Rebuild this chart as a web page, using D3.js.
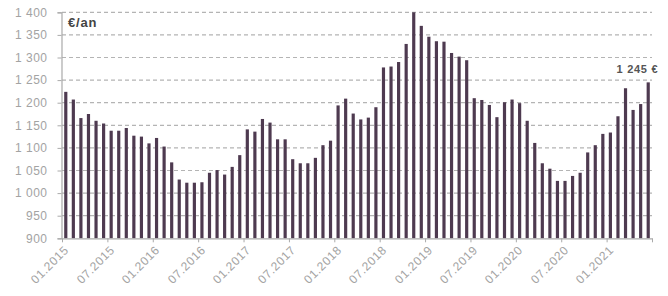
<!DOCTYPE html>
<html>
<head>
<meta charset="utf-8">
<script src="https://cdn.jsdelivr.net/npm/d3@7"></script>
<style>
  body { margin: 0; background: #fff; }
  #chart { position: relative; width: 668px; height: 296px; }
  svg { display: block; font-family: "Liberation Sans", Arial, sans-serif; }
  .xlab {
    position: absolute; white-space: nowrap;
    font: 12px "Liberation Sans", Arial, sans-serif; letter-spacing: 0.6px;
    color: #a3a3a3; line-height: 12px;
    transform-origin: 100% 50%; transform: rotate(-45deg);
  }
</style>
</head>
<body>
<div id="chart"></div>
<script>
// monthly values, 01.2015 -> 06.2021 (€/an)
var values = [
  1224, 1207, 1166, 1175, 1160, 1154, 1138, 1138, 1144, 1127, 1125, 1110,
  1122, 1103, 1068, 1030, 1023, 1023, 1024, 1045, 1051, 1041, 1058, 1084,
  1141, 1136, 1164, 1156, 1119, 1119, 1075, 1066, 1066, 1078, 1106, 1116,
  1194, 1209, 1176, 1163, 1167, 1190, 1278, 1280, 1290, 1330, 1400, 1370,
  1346, 1336, 1335, 1310, 1302, 1294, 1210, 1206, 1195, 1168, 1201, 1207,
  1199, 1160, 1111, 1066, 1054, 1027, 1027, 1038, 1045, 1090, 1106, 1131,
  1134, 1170, 1232, 1184, 1197, 1245
];
var tickLabels = ['01.2015', '07.2015', '01.2016', '07.2016', '01.2017', '07.2017',
  '01.2018', '07.2018', '01.2019', '07.2019', '01.2020', '07.2020', '01.2021'];
var yTicks = [900, 950, 1000, 1050, 1100, 1150, 1200, 1250, 1300, 1350, 1400];
var unitLabel = '€/an';
var lastLabel = '1 245 €';

var W = 668, H = 296;
var margin = {top: 12, right: 16, bottom: 58, left: 62};
var x0 = margin.left, x1 = W - margin.right,
    y0 = H - margin.bottom, y1 = margin.top;

var svg = d3.select('#chart').append('svg').attr('width', W).attr('height', H);

var xBand = d3.scaleBand().domain(d3.range(values.length)).range([x0, x1])
  .paddingInner(0.58).paddingOuter(0.29);
var xLin = d3.scaleLinear().domain([0, values.length]).range([x0, x1]);
var y = d3.scaleLinear().domain([900, 1400]).range([y0 + 0.3, y1 + 0.3]);

// dashed grid
svg.append('g').selectAll('line')
  .data(yTicks.slice(1))
  .join('line')
  .attr('x1', x0).attr('x2', x1)
  .attr('y1', function(d) { return y(d); })
  .attr('y2', function(d) { return y(d); })
  .attr('stroke', '#b4b4b4')
  .attr('stroke-width', 1.2)
  .attr('stroke-dasharray', '4,3');

// bars
svg.append('g').selectAll('rect')
  .data(values)
  .join('rect')
  .attr('x', function(d, i) { return xBand(i); })
  .attr('width', xBand.bandwidth())
  .attr('y', function(d) { return y(d); })
  .attr('height', function(d) { return y(900) - y(d); })
  .attr('fill', '#4e3a50');

// y axis
var fmt = d3.format(',');
var yAxis = svg.append('g')
  .attr('transform', 'translate(' + (x0 - 0.5) + ',0)')
  .call(d3.axisLeft(y).tickValues(yTicks).tickSize(4).tickPadding(10)
    .tickFormat(function(d) { return fmt(d).replace(',', ' '); }));
yAxis.select('.domain').attr('stroke', '#aaa').attr('stroke-width', 1.2);
yAxis.selectAll('.tick line').attr('stroke', '#aaa');
yAxis.selectAll('text')
  .attr('fill', '#a3a3a3')
  .style('font-size', '12px')
  .style('letter-spacing', '0.5px')
  .style('font-family', '"Liberation Sans", Arial, sans-serif');

// x axis (line + ticks)
var xTickVals = d3.range(0, values.length + 1, 6);
var xAxis = svg.append('g')
  .attr('transform', 'translate(0,' + (y0 + 0.3) + ')')
  .call(d3.axisBottom(xLin).tickValues(xTickVals)
    .tickSize(4).tickSizeOuter(0).tickFormat(''));
xAxis.select('.domain').attr('stroke', '#aaa').attr('stroke-width', 1.2);
xAxis.selectAll('.tick line').attr('stroke', '#aaa');

// rotated x labels as html, right edge pinned next to each tick
d3.select('#chart').selectAll('div.xlab')
  .data(tickLabels)
  .join('div')
  .attr('class', 'xlab')
  .style('right', function(d, i) { return (W - xLin(i * 6) - 5) + 'px'; })
  .style('top', (y0 + 4) + 'px')
  .text(function(d) { return d; });

// unit label
svg.append('text')
  .attr('x', x0 + 6).attr('y', 27)
  .attr('fill', '#444')
  .style('font-size', '13px')
  .style('font-weight', 'bold')
  .style('letter-spacing', '0.8px')
  .text(unitLabel);

// last value label
var last = values.length - 1;
svg.append('text')
  .attr('x', xBand(last) + xBand.bandwidth() / 2 + 10)
  .attr('y', y(values[last]) - 9)
  .attr('text-anchor', 'end')
  .attr('fill', '#555')
  .style('font-size', '11px')
  .style('font-weight', 'bold')
  .style('letter-spacing', '0.7px')
  .text(lastLabel);
</script>
</body>
</html>
